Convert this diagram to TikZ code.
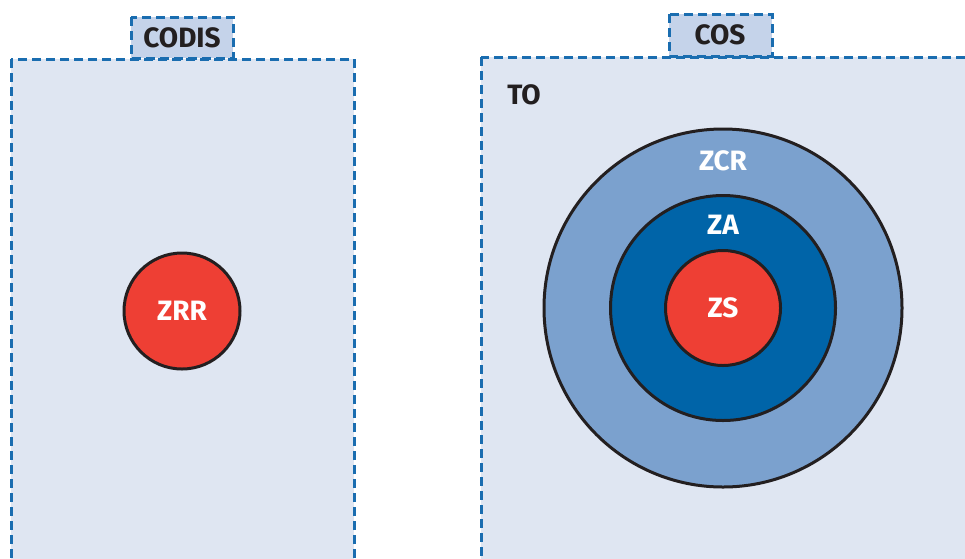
\documentclass[tikz,border=0pt]{standalone}
\usepackage{fontspec}
\setmainfont{Fira Sans}
\definecolor{zonebg}{HTML}{DFE6F2}
\definecolor{tabbg}{HTML}{C5D3EA}
\definecolor{dashblue}{HTML}{1A6DB0}
\definecolor{ringlight}{HTML}{7BA1CE}
\definecolor{ringdark}{HTML}{0064A8}
\definecolor{zonered}{HTML}{EE3F34}
\definecolor{inkdark}{HTML}{231F20}
\tikzset{
  zonebox/.style={fill=zonebg, draw=dashblue, line width=3pt, dash pattern=on 9pt off 5pt},
  tabbox/.style={fill=tabbg, draw=dashblue, line width=3pt, dash pattern=on 9pt off 5pt},
  ring/.style={circle, draw=inkdark, line width=3pt, inner sep=0pt},
  tag/.style={font=\fontsize{28}{30}\selectfont\bfseries, text=inkdark},
  whitetag/.style={font=\fontsize{28}{30}\selectfont\bfseries, text=white}
}
\begin{document}
\begin{tikzpicture}[x=1pt,y=-1pt]
                \clip (0,0) rectangle (965,558);
                \fill[white] (0,0) rectangle (965,558);
                \draw[zonebox] (11,59) rectangle (354,620);
                \draw[zonebox] (481,57) rectangle (1000,620);
                \draw[tabbox] (131,17) rectangle (233,58);
                \draw[tabbox] (669,14) rectangle (772,56);
                \node[tag] (CODIS) at (182,38) {CODIS};
                \node[tag] (COS) at (720,35) {COS};
                \node[tag] (TO) at (524,95) {TO};
                \node[ring, fill=zonered, minimum size=116pt] (ZRR) at (182,311) {};
                \node[whitetag] at (ZRR) {ZRR};
                \node[ring, fill=ringlight, minimum size=358pt] (ZCR) at (723,308) {};
                \node[ring, fill=ringdark, minimum size=225pt] (ZA) at (ZCR) {};
                \node[ring, fill=zonered, minimum size=115pt] (ZS) at (ZCR) {};
                \node[whitetag] (ZCRlabel) at (723,161) {ZCR};
                \node[whitetag] (ZAlabel) at (723,225) {ZA};
                \node[whitetag] at (ZS) {ZS};
            \end{tikzpicture}
\end{document}
